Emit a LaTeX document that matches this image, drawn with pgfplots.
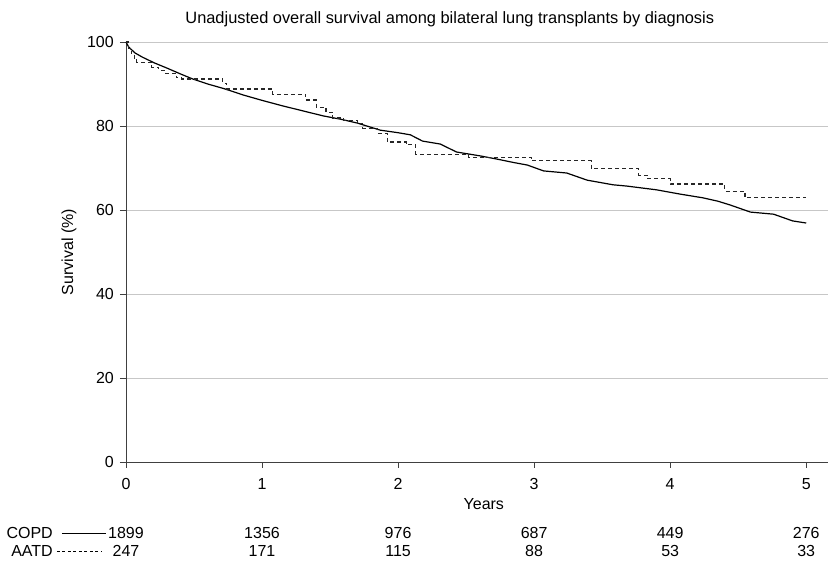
\documentclass[border=0pt]{standalone}
\usepackage{pgfplots}
\pgfplotsset{compat=1.18}
\usepackage{fontspec}
\setmainfont{Liberation Sans}
\begin{document}
\fontsize{16}{19}\selectfont
\begin{tikzpicture}
\useasboundingbox (-126pt,-99pt) rectangle (704pt,462pt);
\begin{axis}[
  at={(0,0)}, anchor=south west,
  scale only axis, width=702pt, height=420pt,
  xmin=0, xmax=5.16, ymin=0, ymax=100,
  axis x line*=bottom, axis y line*=left,
  axis line style={black!75, line width=0.9pt, -},
  xtick={0,1,2,3,4,5}, ytick={0,20,40,60,80,100},
  tick align=outside, major tick length=6pt,
  tick style={black!75, line width=0.8pt},
  ymajorgrids, major grid style={black!22, line width=0.9pt},
  xticklabel style={anchor=base, inner sep=0pt, yshift=-22pt},
  yticklabel style={anchor=east, inner sep=0pt, xshift=-6pt},
  /pgf/number format/assume math mode=true,
  clip=false,
]
\addplot[black, line width=1.2pt] coordinates {
(0,100) (0.02,98.8) (0.066,97.4) (0.12,96.4) (0.21,95.0) (0.30,93.8) (0.40,92.4) (0.49,91.2)
(0.60,90.0) (0.72,88.9) (0.86,87.4) (1.00,86.1) (1.15,84.8) (1.30,83.6) (1.45,82.4)
(1.58,81.6) (1.70,80.7) (1.87,79.0) (2.00,78.4) (2.09,77.9) (2.18,76.4) (2.31,75.7)
(2.43,73.8) (2.60,72.9) (2.73,72.1) (2.85,71.3) (2.95,70.7) (3.07,69.3) (3.24,68.8)
(3.39,67.1) (3.58,66.0) (3.68,65.7) (3.90,64.8) (4.07,63.8) (4.24,62.9) (4.35,62.1)
(4.44,61.2) (4.59,59.5) (4.76,59.0) (4.90,57.4) (5.00,56.9)
};
\addplot[black!85, line width=1.1pt, dash pattern=on 4pt off 3pt, const plot] coordinates {
(0,100) (0.02,98.5) (0.04,97.2) (0.06,96.0) (0.08,95.2) (0.19,94.0) (0.24,93.3)
(0.29,92.6) (0.37,91.5) (0.41,91.2) (0.71,90.2) (0.74,88.8) (1.08,87.6) (1.32,86.2)
(1.40,84.5) (1.47,83.3) (1.52,81.9) (1.60,81.4) (1.70,80.7) (1.74,79.5) (1.85,78.3)
(1.92,76.2) (2.06,75.5) (2.13,73.3) (2.52,72.6) (2.98,71.7) (3.42,69.8) (3.77,68.3)
(3.83,67.4) (4.00,66.2) (4.40,64.5) (4.55,62.9) (5.00,62.9)
};
\node[rotate=90, anchor=center] at ([xshift=-57pt]rel axis cs:0,0.5) {Survival (\%)};
\node[anchor=base] at ([yshift=-48pt]axis cs:2.63,0) {Years};
\node[anchor=base, font=\fontsize{16.4}{19}\selectfont] at ([yshift=18pt]axis cs:2.38,100) {Unadjusted overall survival among bilateral lung transplants by diagnosis};
% risk table
\node[anchor=base east, inner sep=0pt] at ([xshift=-73pt, yshift=-77pt]axis cs:0,0) {COPD};
\node[anchor=base east, inner sep=0pt] at ([xshift=-73pt, yshift=-95pt]axis cs:0,0) {AATD};
\draw[black, line width=1pt] ([xshift=-64pt, yshift=-72pt]axis cs:0,0) -- ([xshift=-20pt, yshift=-72pt]axis cs:0,0);
\draw[black, line width=1pt, dash pattern=on 3pt off 2.5pt] ([xshift=-69pt, yshift=-90pt]axis cs:0,0) -- ([xshift=-24pt, yshift=-90pt]axis cs:0,0);
\node[anchor=base] at ([yshift=-77pt]axis cs:0,0) {1899};
\node[anchor=base] at ([yshift=-95pt]axis cs:0,0) {247};
\node[anchor=base] at ([yshift=-77pt]axis cs:1,0) {1356};
\node[anchor=base] at ([yshift=-95pt]axis cs:1,0) {171};
\node[anchor=base] at ([yshift=-77pt]axis cs:2,0) {976};
\node[anchor=base] at ([yshift=-95pt]axis cs:2,0) {115};
\node[anchor=base] at ([yshift=-77pt]axis cs:3,0) {687};
\node[anchor=base] at ([yshift=-95pt]axis cs:3,0) {88};
\node[anchor=base] at ([yshift=-77pt]axis cs:4,0) {449};
\node[anchor=base] at ([yshift=-95pt]axis cs:4,0) {53};
\node[anchor=base] at ([yshift=-77pt]axis cs:5,0) {276};
\node[anchor=base] at ([yshift=-95pt]axis cs:5,0) {33};
\end{axis}
\end{tikzpicture}
\end{document}
